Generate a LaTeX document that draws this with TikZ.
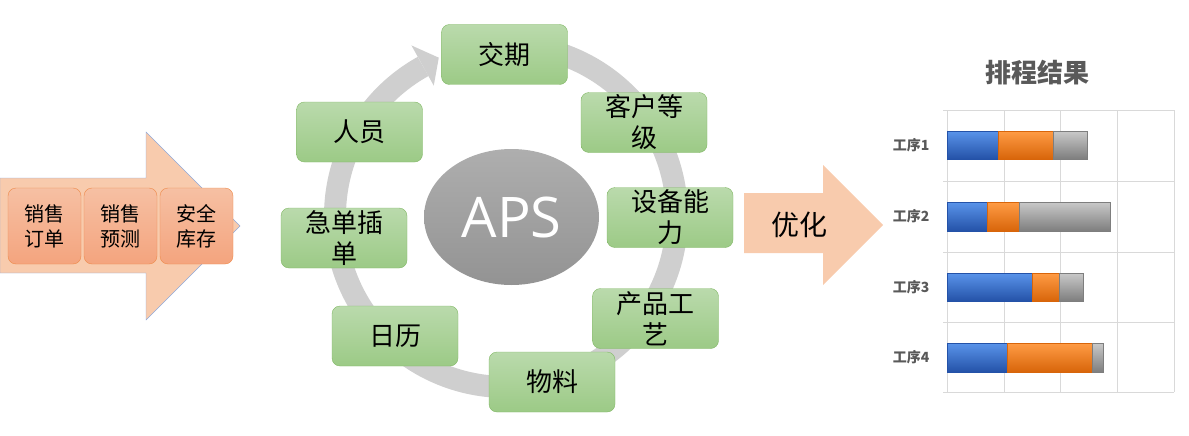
\documentclass[tikz,border=0pt]{standalone}
\usepackage{fontspec}
\setmainfont{Noto Sans CJK SC}
\newfontfamily\apsfont{Open Sans}
\usetikzlibrary{shapes.geometric}

\definecolor{factorline}{HTML}{82B866}
\definecolor{factortop}{HTML}{BADAAC}
\definecolor{factorbot}{HTML}{9CCA86}
\definecolor{apstop}{HTML}{AEAEAE}
\definecolor{apsbot}{HTML}{939393}
\definecolor{ringgray}{HTML}{CFCFCF}
\definecolor{arrowfill}{HTML}{F8CBAD}
\definecolor{arrowline}{HTML}{8FAADC}
\definecolor{inboxtop}{HTML}{F6C0A3}
\definecolor{inboxbot}{HTML}{F4A47E}
\definecolor{inboxline}{HTML}{EE8A4A}
\definecolor{gridgray}{HTML}{D9D9D9}
\definecolor{labelgray}{HTML}{595959}
\definecolor{bluetop}{HTML}{5A94EA}
\definecolor{bluemid}{HTML}{2F69CF}
\definecolor{bluebot}{HTML}{2452A8}
\definecolor{orangetop}{HTML}{FF9C45}
\definecolor{orangemid}{HTML}{F57D12}
\definecolor{orangebot}{HTML}{D8650A}
\definecolor{graytop}{HTML}{C9C9C9}
\definecolor{graymid}{HTML}{A0A0A0}
\definecolor{graybot}{HTML}{7E7E7E}

\begin{document}
\begin{tikzpicture}[x=1pt, y=-1pt,
    factor/.style={draw=factorline, rounded corners=8pt, top color=factortop, bottom color=factorbot, minimum width=126pt, minimum height=60pt, inner sep=0pt, align=center, font=\fontsize{26}{31}\selectfont},
    inbox/.style={draw=inboxline, rounded corners=8pt, top color=inboxtop, bottom color=inboxbot, minimum width=73pt, minimum height=76pt, inner sep=0pt, align=center, font=\fontsize{20}{25}\selectfont},
    ring/.style={draw=ringgray, line width=22pt},
    barblue/.style={draw=bluebot, top color=bluetop, middle color=bluemid, bottom color=bluebot},
    barorange/.style={draw=orangebot, top color=orangetop, middle color=orangemid, bottom color=orangebot},
    bargray/.style={draw=graybot, top color=graytop, middle color=graymid, bottom color=graybot},
    proclabel/.style={anchor=east, text=labelgray, font=\fontsize{14}{16}\bfseries},
    gridline/.style={draw=gridgray, line width=1pt}]
    \useasboundingbox (0,0) rectangle (1189,436);

    % input arrow
    \draw [draw=arrowline, fill=arrowfill] (0,178) -- (146,178) -- (146,132) -- (240,226) -- (146,320) -- (146,273) -- (0,273) -- cycle;
    \node [inbox] (order) at (44.5,226) {销售\\订单};
    \node [inbox] (forecast) at (120.5,226) {销售\\预测};
    \node [inbox] (stock) at (196.5,226) {安全\\库存};

    % cycle around APS
    \coordinate (ringc) at (506,216);
    \draw [ring] ([shift={(-95:171)}]ringc) arc [start angle=-95, end angle=241, radius=171];
    \fill [ringgray] ([shift={(241:195)}]ringc) -- ([shift={(247:172)}]ringc) -- ([shift={(241:149)}]ringc) -- cycle;

    \node [factor] (due) at (504.5,54.5) {交期};
    \node [factor] (grade) at (644,122.5) {客户等\\级};
    \node [factor] (equip) at (670,217.5) {设备能\\力};
    \node [factor] (craft) at (655.5,318.5) {产品工\\艺};
    \node [factor] (material) at (552,382) {物料};
    \node [factor] (calendar) at (395,336) {日历};
    \node [factor] (urgent) at (344,238) {急单插\\单};
    \node [factor] (staff) at (359.5,132) {人员};

    \node [ellipse, top color=apstop, bottom color=apsbot, minimum width=175pt, minimum height=136pt, inner sep=0pt, text=white, font=\apsfont\fontsize{56}{60}\selectfont] (aps) at (511.5,217) {APS};

    % optimise arrow
    \fill [arrowfill] (744,193) -- (823,193) -- (823,165) -- (883,225) -- (823,285) -- (823,253) -- (744,253) -- cycle;
    \node [font=\fontsize{28}{30}\selectfont] (opt) at (799,225) {优化};

    % result chart
    \node [text=labelgray, font=\fontsize{26}{30}\bfseries] (title) at (1037,73) {排程结果};

    \draw [gridline] (947,110) -- (947,392);
    \draw [gridline] (1004,110) -- (1004,392);
    \draw [gridline] (1060,110) -- (1060,392);
    \draw [gridline] (1117,110) -- (1117,392);
    \draw [gridline] (1174,110) -- (1174,392);
    \draw [gridline] (943,110) -- (1174,110);
    \draw [gridline] (943,181) -- (1174,181);
    \draw [gridline] (943,252) -- (1174,252);
    \draw [gridline] (943,322) -- (1174,322);
    \draw [gridline] (943,392) -- (1174,392);

    \draw [barblue] (947,131) rectangle (998,159);
    \draw [barorange] (998,131) rectangle (1053,159);
    \draw [bargray] (1053,131) rectangle (1087,159);
    \draw [barblue] (947,202) rectangle (987,231);
    \draw [barorange] (987,202) rectangle (1019,231);
    \draw [bargray] (1019,202) rectangle (1110,231);
    \draw [barblue] (947,273) rectangle (1032,301);
    \draw [barorange] (1032,273) rectangle (1059,301);
    \draw [bargray] (1059,273) rectangle (1083,301);
    \draw [barblue] (947,343) rectangle (1007,372);
    \draw [barorange] (1007,343) rectangle (1092,372);
    \draw [bargray] (1092,343) rectangle (1103,372);

    \node [proclabel] (p1) at (933,145) {工序1};
    \node [proclabel] (p2) at (933,216) {工序2};
    \node [proclabel] (p3) at (933,287) {工序3};
    \node [proclabel] (p4) at (933,357) {工序4};
\end{tikzpicture}
\end{document}
